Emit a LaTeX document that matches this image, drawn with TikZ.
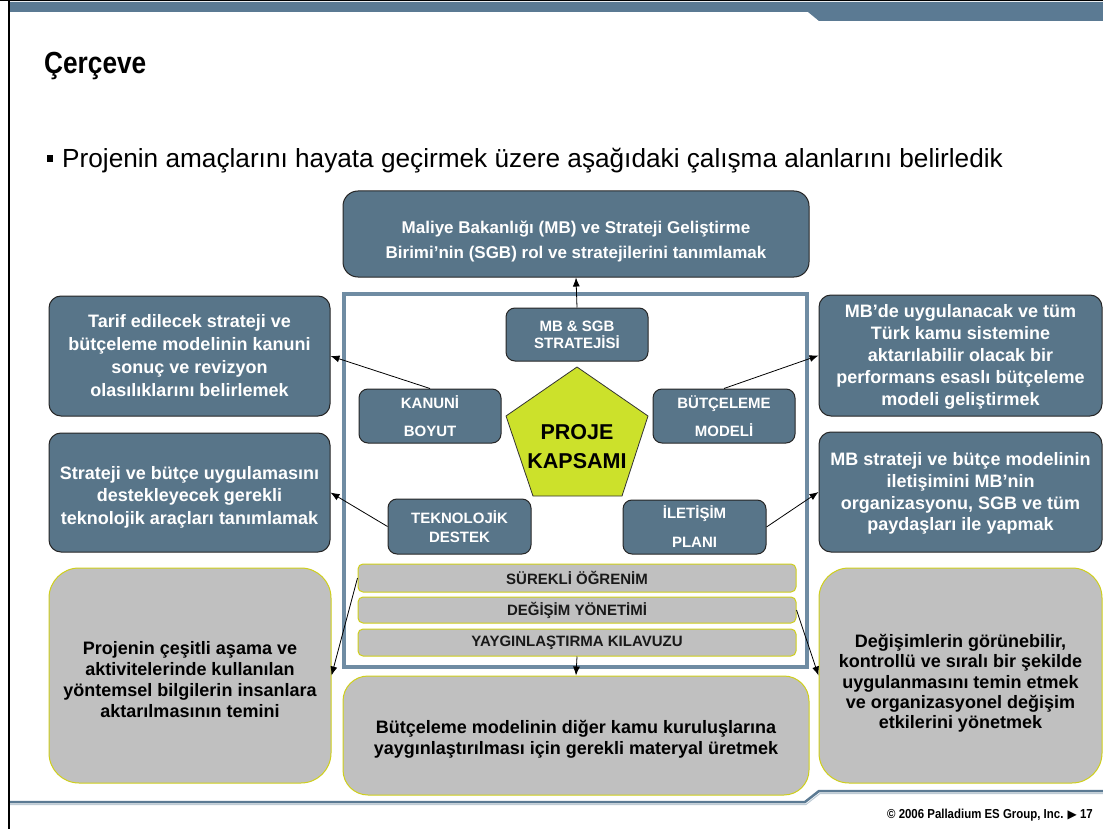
\documentclass[tikz,border=0pt]{standalone}
\usepackage{fontspec}
\setmainfont{Liberation Sans}
\newfontfamily\dejavu{DejaVu Sans}
\newfontfamily\narrowfont[FakeStretch=0.88]{Liberation Sans}
\newfontfamily\titlefont[FakeStretch=0.86]{Liberation Sans}
\usetikzlibrary{arrows.meta}
\definecolor{slate}{HTML}{587589}
\definecolor{barblue}{HTML}{5B7A93}
\definecolor{frameblue}{HTML}{6F8CA3}
\definecolor{lgray}{HTML}{C0C0C0}
\definecolor{yborder}{HTML}{CFCF1A}
\definecolor{pent}{HTML}{CCE12B}
\newcommand\lift[1]{\rule{0pt}{#1}}
\begin{document}
\begin{tikzpicture}[x=1pt,y=-1pt,
  darkbox/.style={draw=black!85, line width=1pt, fill=slate, rounded corners=12pt, text=white, align=center, inner sep=0pt},
  smallbox/.style={darkbox, rounded corners=9pt, minimum width=142pt},
  graybox/.style={draw=yborder, line width=1pt, fill=lgray, rounded corners=30pt, text=black, align=center, inner sep=0pt},
  barbox/.style={draw=yborder, line width=1pt, fill=lgray, rounded corners=5pt, text=black!90, align=center, inner sep=0pt, minimum width=438pt, font=\bfseries\fontsize{15}{17}\selectfont},
  link/.style={line width=0.8pt, -{Latex[length=9pt,width=7pt]}},
  sidefont/.style={font=\bfseries\fontsize{18}{#1}\selectfont}
]
\useasboundingbox (0,0) rectangle (1103,829);
\fill[white] (0,0) rectangle (1103,829);

% page decoration
\fill[barblue] (10,2) -- (1103,2) -- (1103,21) -- (819,21) -- (808,12) -- (10,12) -- cycle;
\draw[black, line width=1pt] (0,0.8) -- (1103,0.8);
\draw[black, line width=2pt] (9,0) -- (9,829);
\draw[barblue, line width=2.5pt] (10,802) -- (805,802) -- (819,791) -- (1103,791);
\draw[barblue!40, line width=1pt] (10,804.5) -- (806,804.5) -- (820,793.5) -- (1103,793.5);

% titles
\node[anchor=base west, font=\titlefont\bfseries\fontsize{30.5}{33}\selectfont, inner sep=0pt] (title) at (44,74) {Çerçeve};
\fill (47,155) rectangle (53,162);
\node[anchor=base west, font=\fontsize{26.2}{30}\selectfont, inner sep=0pt] (lead) at (62,168) {Projenin amaçlarını hayata geçirmek üzere aşağıdaki çalışma alanlarını belirledik};
\node[anchor=base east, font=\narrowfont\bfseries\fontsize{13}{15}\selectfont, inner sep=0pt] (foot) at (1093,818) {© 2006 Palladium ES Group, Inc. {\dejavu\fontsize{12}{12}\selectfont ▶} 17};

% outer boxes
\node[darkbox, rounded corners=15pt, minimum width=466pt, minimum height=86pt, font=\bfseries\fontsize{17}{25}\selectfont] (top) at (576,234)
  {\lift{27pt}Maliye Bakanlığı (MB) ve Strateji Geliştirme\\Birimi’nin (SGB) rol ve stratejilerini tanımlamak};
\node[darkbox, minimum width=281pt, minimum height=120pt, sidefont=23] (lt) at (189.5,356)
  {Tarif edilecek strateji ve\\bütçeleme modelinin kanuni\\sonuç ve revizyon\\olasılıklarını belirlemek};
\node[darkbox, minimum width=281pt, minimum height=119pt, sidefont=22.5] (lm) at (189.5,492.5)
  {\lift{22pt}Strateji ve bütçe uygulamasını\\destekleyecek gerekli\\teknolojik araçları tanımlamak};
\node[darkbox, minimum width=283pt, minimum height=121pt, sidefont=21.8] (rt) at (960.5,355.5)
  {\lift{16pt}MB’de uygulanacak ve tüm\\Türk kamu sistemine\\aktarılabilir olacak bir\\performans esaslı bütçeleme\\modeli geliştirmek};
\node[darkbox, minimum width=283pt, minimum height=120pt, sidefont=21.8] (rm) at (960.5,492)
  {\lift{16pt}MB strateji ve bütçe modelinin\\iletişimini MB’nin\\organizasyonu, SGB ve tüm\\paydaşları ile yapmak};
\node[graybox, minimum width=282pt, minimum height=215pt, sidefont=20.8] (lb) at (190,675.5)
  {\lift{21pt}Projenin çeşitli aşama ve\\aktivitelerinde kullanılan\\yöntemsel bilgilerin insanlara\\aktarılmasının temini};
\node[graybox, minimum width=283pt, minimum height=215pt, sidefont=20.3] (rb) at (960.5,675.5)
  {\lift{29pt}Değişimlerin görünebilir,\\kontrollü ve sıralı bir şekilde\\uygulanmasını temin etmek\\ve organizasyonel değişim\\etkilerini yönetmek};
\node[graybox, rounded corners=25pt, minimum width=466pt, minimum height=119pt, sidefont=21.5] (bm) at (576,735.5)
  {\lift{21pt}Bütçeleme modelinin diğer kamu kuruluşlarına\\yaygınlaştırılması için gerekli materyal üretmek};

% inner frame
\draw[frameblue, line width=3.5pt] (344,294) rectangle (807,667);

% inner boxes
\node[smallbox, minimum height=53pt, font=\bfseries\fontsize{15}{17}\selectfont] (mbs) at (577,334.5) {MB \& SGB\\STRATEJİSİ};
\node[smallbox, minimum height=54pt, font=\bfseries\fontsize{15}{28}\selectfont] (kan) at (430,416) {KANUNİ\\BOYUT};
\node[smallbox, minimum height=54pt, font=\bfseries\fontsize{15}{28}\selectfont] (but) at (724,416) {BÜTÇELEME\\MODELİ};
\node[smallbox, minimum width=143pt, minimum height=55pt, font=\bfseries\fontsize{15}{19}\selectfont] (tek) at (459.5,526.5) {TEKNOLOJİK\\DESTEK};
\node[smallbox, minimum width=143pt, minimum height=54pt, font=\bfseries\fontsize{15}{29}\selectfont] (ile) at (694.5,527) {İLETİŞİM\\PLANI};

% pentagon
\coordinate (p1) at (577,367);
\coordinate (p2) at (648,416);
\coordinate (p3) at (622,496);
\coordinate (p4) at (533,496);
\coordinate (p5) at (506,416);
\draw[fill=pent, draw=black!80, line width=0.8pt] (p1) -- (p2) -- (p3) -- (p4) -- (p5) -- cycle;
\node[align=center, font=\bfseries\fontsize{21.5}{29}\selectfont, inner sep=0pt] (pk) at (577,447) {PROJE\\KAPSAMI};

% bars
\node[barbox, minimum height=28pt] (b1) at (577,578) {SÜREKLİ ÖĞRENİM};
\node[barbox, minimum height=26pt] (b2) at (577,610) {DEĞİŞİM YÖNETİMİ};
\node[barbox, minimum height=27pt] (b3) at (577,642.5) {YAYGINLAŞTIRMA KILAVUZU};

% connectors
\draw[link] (mbs.north) -- (top.south);
\draw[link] (kan.north) -- (lt.east);
\draw[link] (tek.west) -- (lm.east);
\draw[link] (but.north) -- (rt.west);
\draw[link] (ile.east) -- (rm.west);
\draw[link] (b1.west) -- (lb.east);
\draw[link] (b2.east) -- (rb.west);
\draw[link] (b3.south) -- (bm.north);
\end{tikzpicture}
\end{document}
